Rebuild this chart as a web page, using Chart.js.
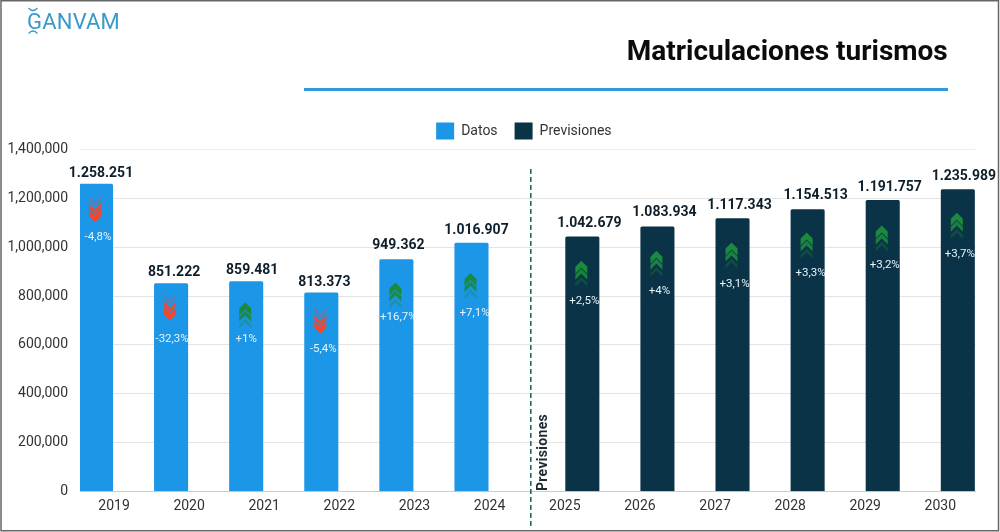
<!DOCTYPE html>
<html><head><meta charset="utf-8">
<style>html,body{margin:0;padding:0;background:#fff}canvas{display:block}</style>
<script src="https://cdn.jsdelivr.net/npm/chart.js@4/dist/chart.umd.min.js"></script>
</head><body><canvas id="c" width="1000" height="532"></canvas>
<script>
const yearsDatos = ['2019','2020','2021','2022','2023','2024'];
const yearsPrev = ['2025','2026','2027','2028','2029','2030'];
const valuesDatos = [1258251, 851222, 859481, 813373, 949362, 1016907];
const valuesPrev = [1042679, 1083934, 1117343, 1154513, 1191757, 1235989];
const labelsDatos = ['1.258.251','851.222','859.481','813.373','949.362','1.016.907'];
const labelsPrev = ['1.042.679','1.083.934','1.117.343','1.154.513','1.191.757','1.235.989'];
const pctDatos = ['-4,8%','-32,3%','+1%','-5,4%','+16,7%','+7,1%'];
const pctPrev = ['+2,5%','+4%','+3,1%','+3,3%','+3,2%','+3,7%'];
const yTicks = [0,200000,400000,600000,800000,1000000,1200000,1400000];

// layout only (pixels relative to each bar's top / centre)
const labelRise = [11,11,11,10,14,13,13,14,13,14,13,13];
const labelShift = [5,3,6,3,2,5,7,7,7,8,7,6];
const arrowDrop = [25,24,34,28,36,43,37,37,37,36,38,36];
const pctDrop = [53,56,58,56,58,70,64,64,66,64,65,64];
const pctShift = [2,1,0,2,2,3,2,2,2,3,2,2];

const gapStart = 6.476; // x position of the first forecast year
const posDatos = yearsDatos.map((_,i)=>i);
const posPrev = yearsPrev.map((_,i)=>gapStart+i);
const tickPos = [...posDatos.map(p=>p+0.24), ...posPrev.map(p=>p-0.233)];
const tickText = [...yearsDatos, ...yearsPrev];
const dividerX = 5.79;

const FONT='Roboto, sans-serif';

function chevron(ctx,cx,tipY,dir,w,h,t){
  ctx.beginPath();
  ctx.moveTo(cx,tipY);
  ctx.lineTo(cx+w/2,tipY-dir*h);
  ctx.lineTo(cx+w/2,tipY-dir*(h+t));
  ctx.lineTo(cx,tipY-dir*t);
  ctx.lineTo(cx-w/2,tipY-dir*(h+t));
  ctx.lineTo(cx-w/2,tipY-dir*h);
  ctx.closePath();ctx.fill();
}
function arrows(ctx,cx,cy,up){
  ctx.save();
  const col = up?'#1b8a3d':'#f2472c';
  ctx.fillStyle=col;
  const dir = up?-1:1, w=12,h=6,t=7, gap=8;
  const tip = cy+dir*13;
  ctx.globalAlpha=1;    chevron(ctx,cx,tip,dir,w,h,t);
  ctx.globalAlpha=0.9;  chevron(ctx,cx,tip-dir*gap,dir,w,h,t-2);
  ctx.globalAlpha=0.3;  chevron(ctx,cx,tip-dir*2*gap,dir,w,h,t-3);
  ctx.restore();
}

const LEG_X=35, TITLE_X=-28;
const overlay = {
  id:'overlay',
  afterLayout(chart){
    const L=chart.legend; L.left+=LEG_X; L.right+=LEG_X;
    if(L.legendHitBoxes) L.legendHitBoxes.forEach(b=>{b.left+=LEG_X;});
    const T=chart.titleBlock; T.right+=TITLE_X; T.left+=TITLE_X;
  },
  beforeDraw(chart){
    const c=chart.ctx;
    c.save();
    c.strokeStyle='#2e9bdc';c.lineWidth=3;
    c.beginPath();c.moveTo(304,89.5);c.lineTo(948,89.5);c.stroke();
    // logo
    c.fillStyle='#3b9ac9';c.font='400 22px '+FONT;c.textBaseline='alphabetic';c.textAlign='left';
    c.letterSpacing='0.2px';
    c.fillText('GANVAM',27,29);
    c.letterSpacing='0px';
    c.strokeStyle='#3b9ac9';c.lineWidth=1.3;
    c.beginPath();c.moveTo(28.5,8);c.quadraticCurveTo(33,13,37.5,8);c.stroke();
    c.beginPath();c.moveTo(28.5,33.5);c.quadraticCurveTo(33,28.5,37.5,33.5);c.stroke();
    c.restore();
  },
  afterDatasetsDraw(chart){
    const c=chart.ctx, xs=chart.scales.x, ys=chart.scales.y;
    const pos=[...posDatos,...posPrev], vals=[...valuesDatos,...valuesPrev];
    const labs=[...labelsDatos,...labelsPrev], pcts=[...pctDatos,...pctPrev];
    c.save();
    // divider
    const dx=xs.getPixelForValue(dividerX);
    c.strokeStyle='#1f6b62';c.lineWidth=1.6;c.setLineDash([5,3]);
    c.beginPath();c.moveTo(dx,169);c.lineTo(dx,528);c.stroke();c.setLineDash([]);
    // side label
    c.save();c.translate(dx+13,491);c.rotate(-Math.PI/2);
    c.fillStyle='#1c2b33';c.font='700 14px '+FONT;c.textAlign='left';c.textBaseline='middle';
    c.letterSpacing='0.3px';c.fillText('Previsiones',0,0);c.restore();
    pos.forEach((p,i)=>{
      const x=xs.getPixelForValue(p), top=ys.getPixelForValue(vals[i]);
      c.textAlign='center';c.textBaseline='middle';
      c.fillStyle='#0e1f2b';c.font='700 14px '+FONT;
      c.letterSpacing='0px';
      c.fillText(labs[i],x+labelShift[i],top-labelRise[i]);
      arrows(c,x-1,top+arrowDrop[i],pcts[i][0]==='+');
      c.fillStyle='#e8f4fb';c.font='400 11.5px '+FONT;
      c.fillText(pcts[i],x+pctShift[i],top+pctDrop[i]);
    });
    c.strokeStyle='#666';c.lineWidth=1.5;c.strokeRect(1,0.75,997.5,530);
    c.restore();
  }
};

new Chart(document.getElementById('c'),{
  type:'bar',
  data:{datasets:[
    {label:'Datos',data:posDatos.map((x,i)=>({x,y:valuesDatos[i]})),backgroundColor:'#1c96e6',barThickness:33.4,borderRadius:{topLeft:1.5,topRight:1.5},grouped:false},
    {label:'Previsiones',data:posPrev.map((x,i)=>({x,y:valuesPrev[i]})),backgroundColor:'#0b3347',barThickness:33.4,borderRadius:{topLeft:1.5,topRight:1.5},grouped:false}
  ]},
  options:{
    responsive:false,animation:false,
    layout:{padding:{left:2,right:24.3,top:0,bottom:0}},
    plugins:{
      title:{display:true,text:'Matriculaciones turismos',align:'end',color:'#0b0b0b',font:{family:FONT,size:28,weight:'700'},padding:{top:36,bottom:36}},
      legend:{position:'top',align:'center',labels:{boxWidth:18,boxHeight:17,padding:17,color:'#333',font:{family:FONT,size:14}}},
      tooltip:{enabled:false}
    },
    scales:{
      x:{type:'linear',offset:false,min:-0.213,max:11.714,
        grid:{display:false,drawTicks:false},border:{color:'#ccc',width:1},
        afterBuildTicks(s){s.ticks=tickPos.map(value=>({value}));},
        afterFit(s){s.height=40.7;},
        ticks:{autoSkip:false,maxRotation:0,padding:7,color:'#333',font:{family:FONT,size:14},
          callback(v,i){return tickText[i];}}
      },
      y:{min:0,max:1400000,
        afterBuildTicks(s){s.ticks=yTicks.map(value=>({value}));},
        afterFit(s){s.width=78;},
        border:{display:false},
        grid:{drawTicks:false,color:c=>c.tick&&c.tick.value===1400000?'#eeeeee':'#e4e4e4'},
        ticks:{padding:12,color:'#333',font:{family:FONT,size:14},callback:v=>Number(v).toLocaleString('en-US')}
      }
    }
  },
  plugins:[overlay]
});
</script></body></html>
